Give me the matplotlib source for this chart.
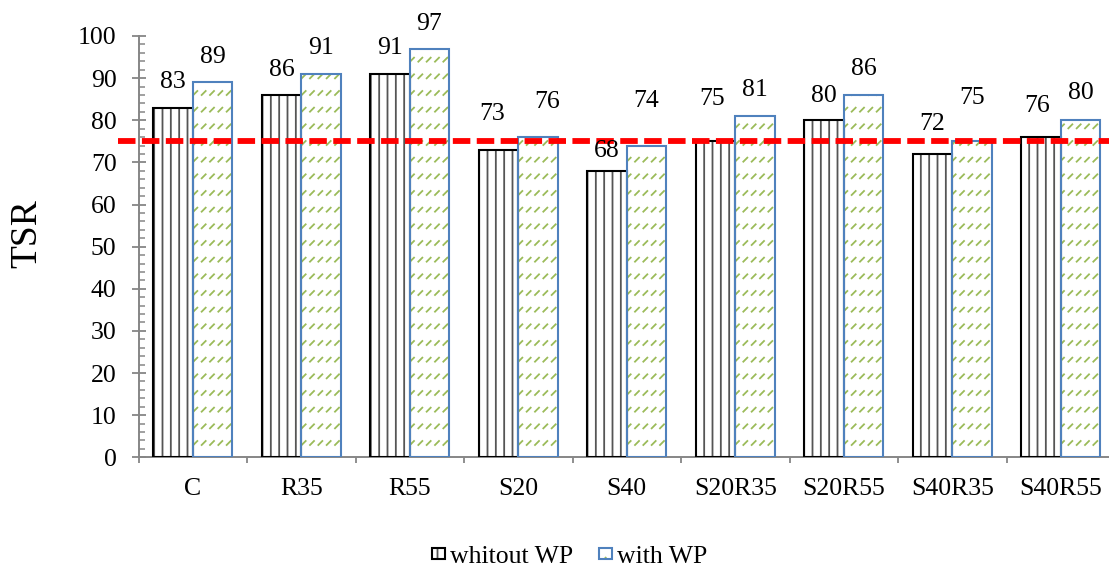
import numpy as np
import matplotlib
matplotlib.use("Agg")
import matplotlib.pyplot as plt
import matplotlib.hatch as mhatch
from matplotlib.path import Path
from matplotlib.legend_handler import HandlerTuple
import matplotlib.transforms as mtransforms

# ---------------- data ----------------
categories = ["C", "R35", "R55", "S20", "S40", "S20R35", "S20R55", "S40R35", "S40R55"]
without_wp = [83, 86, 91, 73, 68, 75, 80, 72, 76]
with_wp = [89, 91, 97, 76, 74, 81, 86, 75, 80]
threshold = 75
series_names = ["whitout WP", "with WP"]
y_label = "TSR"

# label offsets (pixels above bar top / sideways), as in the reference layout
lab_dy_without = [26, 24.5, 26, 36, 20, 42, 24.5, 30, 31.5]
lab_dx_without = [0, 0, 0, -6, 0, -3, 0, 0, -3.5]
lab_dy_with = [25, 25.5, 24.6, 35.6, 44.5, 25.7, 26, 43, 27]
lab_dx_with = [0, 0, 0, 9.5, 0, 0, 0, 0, 0]


# ---------------- custom hatch: rows of short diagonal dashes ----------------
class DashRows(mhatch.HatchPatternBase):
    rows = 6
    cols = 12

    def __init__(self, hatch, density):
        self.on = hatch.count('*') > 0
        self.num_vertices = self.rows * self.cols * 2 if self.on else 0

    def set_vertices_and_codes(self, vertices, codes):
        k = 0
        for r in range(self.rows):
            y0 = (r + 0.3) / self.rows
            for c in range(self.cols):
                x0 = (c + 0.2) / self.cols
                vertices[k] = (x0, y0)
                vertices[k + 1] = (x0 + 0.04, y0 + 0.04)
                codes[k] = Path.MOVETO
                codes[k + 1] = Path.LINETO
                k += 2


mhatch._hatch_types = [mhatch.HorizontalHatch, mhatch.VerticalHatch,
                       mhatch.NorthEastHatch, mhatch.SouthEastHatch,
                       mhatch.SmallCircles, mhatch.LargeCircles,
                       mhatch.SmallFilledCircles, DashRows]

plt.rcParams['font.family'] = ['Liberation Serif', 'DejaVu Serif']
plt.rcParams['hatch.linewidth'] = 1.3

W, H = 1109, 571
fig = plt.figure(figsize=(W / 100, H / 100), dpi=100)
ax = fig.add_axes([138.5 / W, 113.7 / H, 976.5 / W, 421.3 / H])

x = np.arange(len(categories))
bw = 0.364
gray = '#868686'
green = '#9BBB59'
blue = '#4F81BD'

# without WP: vertical-line hatch + black outline
h1 = ax.bar(x - bw / 2, without_wp, bw, color='white', edgecolor='#555555',
            hatch='||', linewidth=0, zorder=2)
o1 = ax.bar(x - bw / 2, without_wp, bw, facecolor='none', edgecolor='black',
            linewidth=1.5, zorder=3)
# with WP: dashed diagonal hatch + blue outline
h2 = ax.bar(x + bw / 2, with_wp, bw, color='white', edgecolor=green,
            hatch='*', linewidth=0, zorder=2)
o2 = ax.bar(x + bw / 2, with_wp, bw, facecolor='none', edgecolor=blue,
            linewidth=1.5, zorder=3)

# threshold line, extends slightly left of the axis
trans = mtransforms.blended_transform_factory(ax.transAxes, ax.transData)
ax.plot([-0.021, 1.0], [threshold, threshold], transform=trans, color='#FF0000',
        linewidth=4.2, dashes=(3.0, 1.1), clip_on=False, zorder=5,
        dash_capstyle='butt')

# value labels
k = 0.72
for i, v in enumerate(without_wp):
    ax.annotate(str(v), (x[i] - bw / 2, v),
                xytext=(lab_dx_without[i] * k, lab_dy_without[i] * k),
                textcoords='offset points', ha='center', va='center',
                fontsize=18.5, zorder=6, annotation_clip=False)
for i, v in enumerate(with_wp):
    ax.annotate(str(v), (x[i] + bw / 2, v),
                xytext=(lab_dx_with[i] * k, lab_dy_with[i] * k),
                textcoords='offset points', ha='center', va='center',
                fontsize=18.5, zorder=6, annotation_clip=False)

# axes styling
ax.set_xlim(-0.5, len(categories) - 0.5)
ax.set_ylim(0, 100)
ax.set_yticks(np.arange(0, 101, 10))
ax.set_yticks(np.arange(0, 101, 2), minor=True)
ax.set_xticks(x)
ax.set_xticklabels(categories)
ax.set_xticks(np.arange(-0.5, len(categories), 1), minor=True)

for s in ['top', 'right']:
    ax.spines[s].set_visible(False)
for s in ['left', 'bottom']:
    ax.spines[s].set_color(gray)
    ax.spines[s].set_linewidth(1.4)

ax.tick_params(axis='y', which='major', direction='inout', length=10, width=1.3,
               color=gray, labelsize=18.5, pad=10.8)
ax.tick_params(axis='y', which='minor', direction='in', length=4.3, width=1.1,
               color=gray)
ax.tick_params(axis='x', which='major', length=0, labelsize=18.5, pad=15)
ax.tick_params(axis='x', which='minor', direction='out', length=4.3, width=1.3,
               color=gray)

fig.text(27 / W, 1 - 234 / H, y_label, rotation=90, ha='center', va='center',
         fontsize=27)

# legend
handles = [(h1[0], o1[0]), (h2[0], o2[0])]
fig.legend(handles, series_names, loc='center', bbox_to_anchor=(570 / W, 1 - 557 / H),
           ncol=2, frameon=False, fontsize=18.5, handlelength=0.5,
           handleheight=0.3, handletextpad=0.2, columnspacing=1.0,
           borderpad=0.1, handler_map={tuple: HandlerTuple(ndivide=1)})

fig.savefig('out.png', dpi=100)
